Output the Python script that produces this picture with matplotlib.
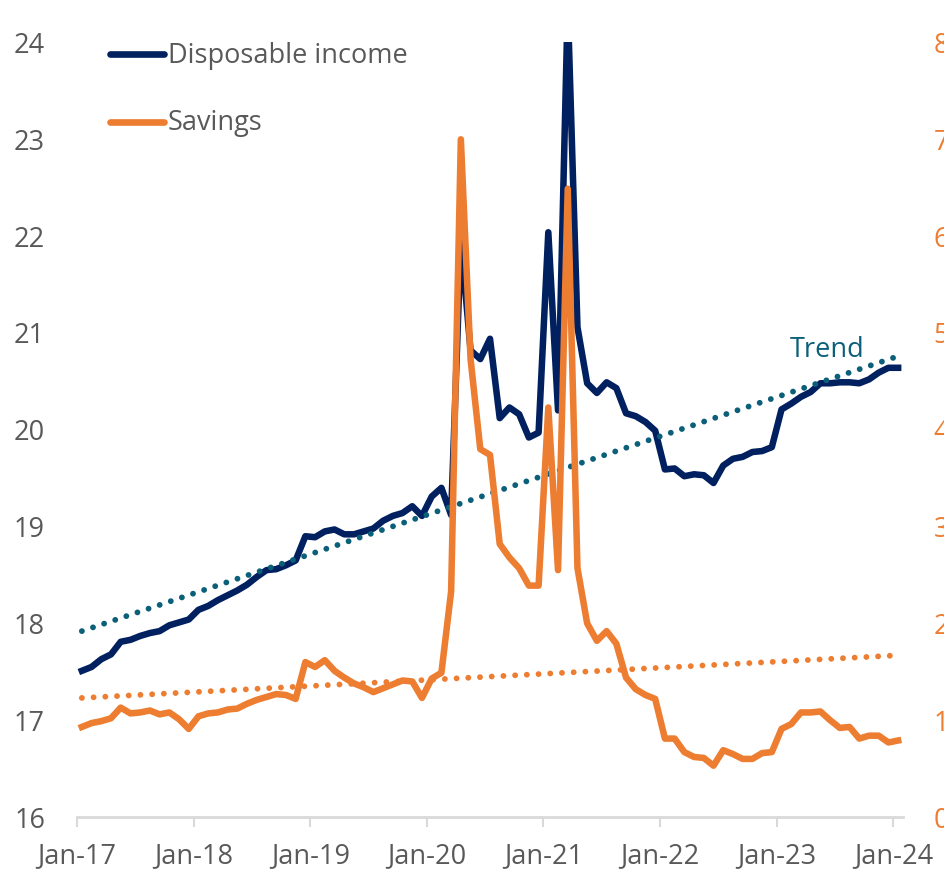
import numpy as np
import matplotlib.pyplot as plt
from matplotlib.lines import Line2D

# Monthly data, Jan-17 .. Jan-24
income = [
    17.51, 17.55, 17.63, 17.68, 17.81, 17.83, 17.87, 17.90, 17.92, 17.98, 18.01, 18.04,  # 2017
    18.14, 18.18, 18.24, 18.29, 18.34, 18.40, 18.48, 18.55, 18.56, 18.60, 18.65, 18.90,  # 2018
    18.89, 18.95, 18.97, 18.92, 18.92, 18.95, 18.98, 19.06, 19.11, 19.14, 19.21, 19.11,  # 2019
    19.31, 19.40, 19.12, 21.96, 20.82, 20.73, 20.94, 20.12, 20.23, 20.16, 19.92, 19.97,  # 2020
    22.04, 20.20, 24.40, 21.06, 20.48, 20.38, 20.49, 20.43, 20.17, 20.14, 20.08, 19.99,  # 2021
    19.59, 19.60, 19.52, 19.54, 19.53, 19.45, 19.63, 19.70, 19.72, 19.77, 19.78, 19.82,  # 2022
    20.21, 20.27, 20.34, 20.39, 20.48, 20.48, 20.49, 20.49, 20.48, 20.52, 20.59, 20.64,  # 2023
    20.64,                                                                               # 2024
]
savings = [
    0.93, 0.97, 0.99, 1.02, 1.13, 1.07, 1.08, 1.10, 1.06, 1.08, 1.01, 0.91,  # 2017
    1.04, 1.07, 1.08, 1.11, 1.12, 1.17, 1.21, 1.24, 1.27, 1.26, 1.22, 1.60,  # 2018
    1.55, 1.62, 1.51, 1.44, 1.38, 1.34, 1.29, 1.33, 1.37, 1.41, 1.40, 1.23,  # 2019
    1.43, 1.49, 2.33, 7.00, 4.73, 3.80, 3.74, 2.82, 2.68, 2.57, 2.39, 2.39,  # 2020
    4.23, 2.55, 6.49, 2.57, 2.00, 1.82, 1.92, 1.79, 1.44, 1.32, 1.26, 1.22,  # 2021
    0.81, 0.81, 0.67, 0.62, 0.61, 0.53, 0.69, 0.65, 0.60, 0.60, 0.66, 0.67,  # 2022
    0.91, 0.96, 1.08, 1.08, 1.09, 1.00, 0.92, 0.93, 0.81, 0.84, 0.84, 0.77,  # 2023
    0.79,                                                                    # 2024
]

# Linear trend lines (start / end values as shown)
income_trend = [17.92, 20.76]
savings_trend = [1.23, 1.67]

year_labels = ["Jan-17", "Jan-18", "Jan-19", "Jan-20", "Jan-21", "Jan-22", "Jan-23", "Jan-24"]

navy = "#002060"
orange = "#ED7D31"
teal = "#0B5F78"
grey_text = "#595959"
axis_grey = "#D9D9D9"

plt.rcParams["font.family"] = ["Open Sans", "DejaVu Sans"]
fs = 19.5

W, H = 945, 872
fig = plt.figure(figsize=(W / 100, H / 100), dpi=100)
ax = fig.add_axes([77 / W, (H - 817) / H, (903 - 77) / W, (817 - 42.5) / H])
ax2 = ax.twinx()

x = np.arange(len(income))
ends = [x[0], x[-1]]

ax.plot(x, income, color=navy, lw=4.7, solid_joinstyle="round")
ax.plot(ends, income_trend, color=teal, lw=4.2, linestyle=(0, (0.01, 2.0)),
        dash_capstyle="round")
ax2.plot(x, savings, color=orange, lw=4.7, solid_joinstyle="round")
ax2.plot(ends, savings_trend, color=orange, lw=4.2, linestyle=(0, (0.01, 2.0)),
         dash_capstyle="round")

ax.set_xlim(-0.5, len(income) - 0.5)
ax.set_ylim(16, 24)
ax2.set_ylim(0, 8)

ax.set_xticks(np.arange(len(year_labels)) * 12 - 0.5)
ax.set_xticklabels(year_labels)
ax.set_yticks(range(16, 25))
ax2.set_yticks(range(0, 9))

for a in (ax, ax2):
    for s in ("top", "left", "right"):
        a.spines[s].set_visible(False)
ax2.spines["bottom"].set_visible(False)
ax.spines["bottom"].set_color(axis_grey)
ax.spines["bottom"].set_linewidth(2)

ax.tick_params(axis="x", colors=axis_grey, length=7, width=1.5, pad=11,
               labelsize=fs, labelcolor=grey_text)
ax.tick_params(axis="y", length=0, pad=23, labelsize=fs, labelcolor=grey_text)
ax2.tick_params(axis="y", length=0, pad=22, labelsize=fs, labelcolor=orange)

# Legend drawn by hand, top left
fig.add_artist(Line2D([110 / W, 164 / W], [1 - 54.3 / H] * 2, color=navy, lw=4.8,
                      solid_capstyle="round"))
fig.text(168 / W, 1 - 63.3 / H, "Disposable income", fontsize=fs, color=grey_text,
         va="baseline")
fig.add_artist(Line2D([110 / W, 164 / W], [1 - 121.7 / H] * 2, color=orange, lw=4.8,
                      solid_capstyle="round"))
fig.text(168 / W, 1 - 130 / H, "Savings", fontsize=fs, color=grey_text, va="baseline")

fig.text(790 / W, 1 - 356.7 / H, "Trend", fontsize=fs, color=teal, va="baseline")

fig.savefig("out.png", dpi=100)
